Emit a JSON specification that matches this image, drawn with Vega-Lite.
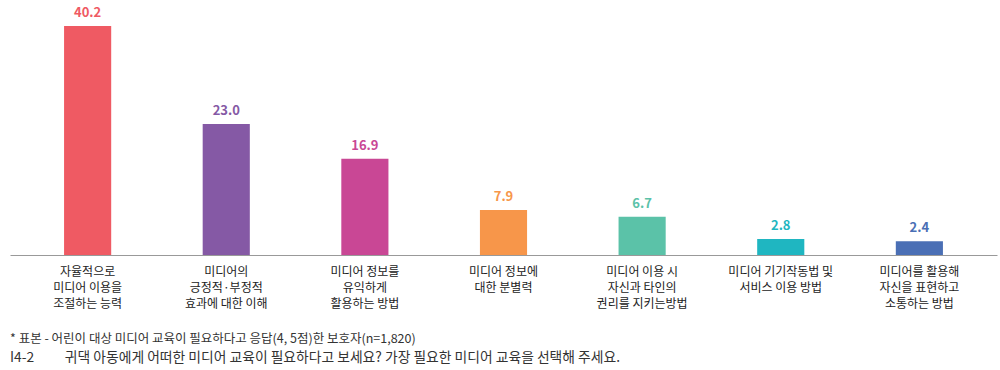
{
  "$schema": "https://vega.github.io/schema/vega-lite/v6.json",
  "width": 987,
  "height": 245,
  "padding": {"left": 10, "top": 6, "right": 3, "bottom": 0},
  "background": "white",
  "config": {
    "font": "Noto Sans CJK KR",
    "view": {"stroke": null}
  },
  "title": {
    "text": "* 표본 - 어린이 대상 미디어 교육이 필요하다고 응답(4, 5점)한 보호자(n=1,820)",
    "subtitle": "I4-2\u2003\u2003\u00a0귀댁 아동에게 어떠한 미디어 교육이 필요하다고 보세요? 가장 필요한 미디어 교육을 선택해 주세요.",
    "orient": "bottom",
    "anchor": "start",
    "fontSize": 12.5,
    "fontWeight": "normal",
    "color": "#333333",
    "subtitleFontSize": 13.8,
    "subtitleColor": "#333333",
    "subtitlePadding": 5,
    "offset": 24
  },
  "data": {
    "values": [
      {"cat": "자율적으로|미디어 이용을|조절하는 능력", "order": 1, "value": 40.2, "color": "#EF5A63"},
      {"cat": "미디어의|긍정적·부정적|효과에 대한 이해", "order": 2, "value": 23.0, "color": "#8559A5"},
      {"cat": "미디어 정보를|유익하게|활용하는 방법", "order": 3, "value": 16.9, "color": "#C94795"},
      {"cat": "미디어 정보에|대한 분별력", "order": 4, "value": 7.9, "color": "#F7964A"},
      {"cat": "미디어 이용 시|자신과 타인의|권리를 지키는방법", "order": 5, "value": 6.7, "color": "#5BC2A8"},
      {"cat": "미디어 기기작동법 및|서비스 이용 방법", "order": 6, "value": 2.8, "color": "#1FB6C1"},
      {"cat": "미디어를 활용해|자신을 표현하고|소통하는 방법", "order": 7, "value": 2.4, "color": "#4A6FB5"}
    ]
  },
  "encoding": {
    "x": {
      "field": "cat",
      "type": "nominal",
      "sort": {"field": "order"},
      "scale": {"paddingInner": 0.66, "paddingOuter": 0.39},
      "axis": {
        "title": null,
        "labelAngle": 0,
        "labelExpr": "split(datum.value, '|')",
        "labelFontSize": 12,
        "labelColor": "#222222",
        "labelLineHeight": 16,
        "labelPadding": 11,
        "labelBaseline": "top",
        "ticks": false,
        "domainColor": "#999999",
        "domainWidth": 1
      }
    },
    "y": {
      "field": "value",
      "type": "quantitative",
      "scale": {"domain": [0, 43], "nice": false},
      "axis": null
    },
    "color": {"field": "color", "type": "nominal", "scale": null, "legend": null}
  },
  "layer": [
    {"mark": {"type": "bar"}},
    {
      "mark": {"type": "text", "baseline": "bottom", "dy": -6, "fontSize": 13, "fontWeight": "bold"},
      "encoding": {"text": {"field": "value", "type": "quantitative", "format": ".1f"}}
    }
  ]
}
